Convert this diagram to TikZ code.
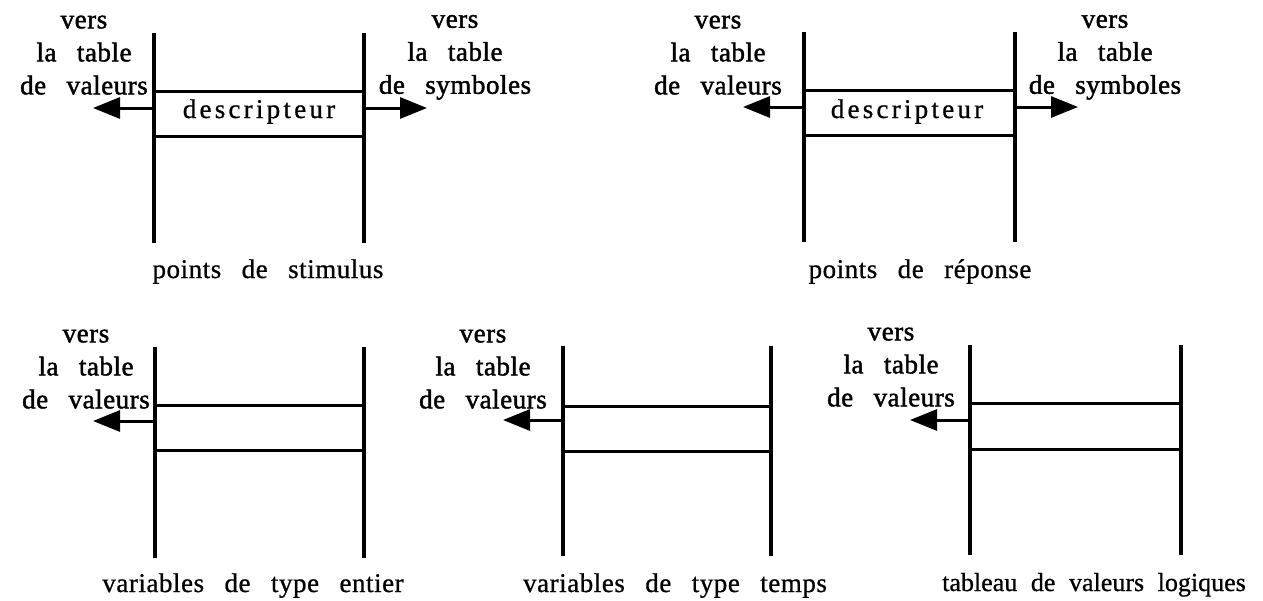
\documentclass[tikz,border=0pt]{standalone}
\usepackage{fontspec}
\setmainfont{Liberation Serif}[WordSpace=2.8, LetterSpace=2, FakeBold=0.8]
\newfontfamily\tightfont{Liberation Serif}[FakeBold=0.8]
\newcommand{\tightspace}{\spaceskip 6.8pt plus 2pt minus 1pt\relax}
\usetikzlibrary{arrows.meta,positioning}

\begin{document}
\begin{tikzpicture}[
    x=0.5pt, y=-0.5pt,
    wall/.style={line width=2pt},
    rung/.style={line width=1.5pt},
    arr/.style={-{Triangle[length=13.5pt, width=10.5pt]}, line width=1.5pt},
    lbl/.style={font=\fontsize{13.5}{16.5}\selectfont\addfontfeature{FakeBold=1.6}, align=center, inner sep=0pt, anchor=south},
    caption/.style={font=\fontsize{13.5}{16.5}\selectfont, inner sep=0pt, anchor=base},
    desc/.style={font=\fontsize{13.5}{16.5}\selectfont\addfontfeature{LetterSpace=12}, inner sep=0pt, anchor=base},
]
\useasboundingbox (0,0) rectangle (1263,600);

% Points de stimulus
\draw[wall] (154,33) -- (154,243);
\draw[wall] (364,33) -- (364,243);
\draw[rung] (154,91) -- (364,91);
\draw[rung] (154,136) -- (364,136);
\node[desc] (stimdesc) at (259,118) {descripteur};
\coordinate (stimW) at (154,108);
\coordinate (stimE) at (364,108);
\coordinate (stimval) at (93,108);
\coordinate (stimsym) at (427,108);
\draw[arr] (stimW) -- (stimval);
\draw[arr] (stimE) -- (stimsym);
\node[lbl] (stimvl) at (84,95) {vers\\la table\\de valeurs};
\node[lbl] (stimsl) at (455,100) {vers\\la table\\de symboles};
\node[caption] (stimcap) at (268,278) {points de stimulus};

% Points de reponse
\draw[wall] (804,32) -- (804,242);
\draw[wall] (1015,32) -- (1015,242);
\draw[rung] (804,90) -- (1015,90);
\draw[rung] (804,135) -- (1015,135);
\node[desc] (repdesc) at (907,118) {descripteur};
\coordinate (repW) at (804,107);
\coordinate (repE) at (1015,107);
\coordinate (repval) at (743,107);
\coordinate (repsym) at (1078,107);
\draw[arr] (repW) -- (repval);
\draw[arr] (repE) -- (repsym);
\node[lbl] (repvl) at (718,95) {vers\\la table\\de valeurs};
\node[lbl] (repsl) at (1105,100) {vers\\la table\\de symboles};
\node[caption] (repcap) at (920,278) {points de réponse};

% Variables entieres
\draw[wall] (155,347) -- (155,558);
\draw[wall] (364,347) -- (364,558);
\draw[rung] (155,405) -- (364,405);
\draw[rung] (155,450) -- (364,450);
\coordinate (entW) at (155,421);
\coordinate (entval) at (93,421);
\draw[arr] (entW) -- (entval);
\node[lbl] (entvl) at (86,409) {vers\\la table\\de valeurs};
\node[caption] (entcap) at (253,592) {variables de type entier};

% Variables temps
\draw[wall] (563,346) -- (563,556);
\draw[wall] (771,346) -- (771,556);
\draw[rung] (563,406) -- (771,406);
\draw[rung] (563,451) -- (771,451);
\coordinate (tmpW) at (563,420);
\coordinate (tmpval) at (503,420);
\draw[arr] (tmpW) -- (tmpval);
\node[lbl] (tmpvl) at (483,409) {vers\\la table\\de valeurs};
\node[caption] (tmpcap) at (675,592) {variables de type temps};

% Valeurs logiques
\draw[wall] (970,345) -- (970,555);
\draw[wall] (1181,345) -- (1181,555);
\draw[rung] (970,403) -- (1181,403);
\draw[rung] (970,449) -- (1181,449);
\coordinate (logW) at (970,420);
\coordinate (logval) at (910,420);
\draw[arr] (logW) -- (logval);
\node[lbl] (logvl) at (891,407) {vers\\la table\\de valeurs};
\node[caption, font={\fontsize{13}{16}\tightfont\tightspace}] (logcap) at (1094,591) {tableau de valeurs logiques};

\end{tikzpicture}
\end{document}
